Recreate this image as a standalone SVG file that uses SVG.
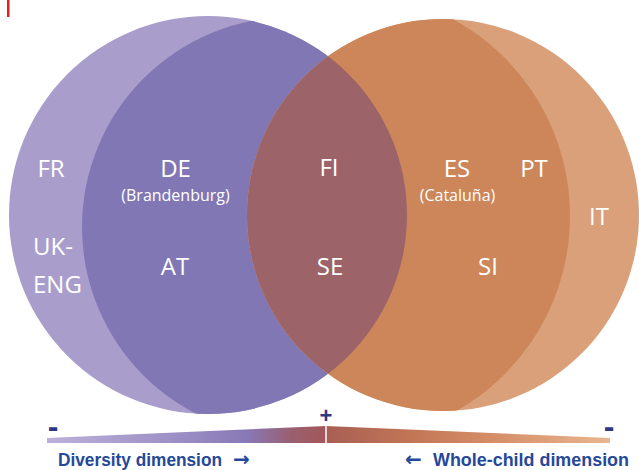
<svg xmlns="http://www.w3.org/2000/svg" width="639" height="470" viewBox="0 0 639 470">
<defs>
  <clipPath id="clipL"><circle cx="208" cy="215" r="199"/></clipPath>
  <clipPath id="clipR"><circle cx="443" cy="215" r="196"/></clipPath>
  <linearGradient id="barL" gradientUnits="userSpaceOnUse" x1="47" y1="0" x2="326" y2="0">
    <stop offset="0" stop-color="#bab1da"/>
    <stop offset="0.45" stop-color="#9d90c6"/>
    <stop offset="0.72" stop-color="#8878b6"/>
    <stop offset="0.88" stop-color="#9a5f6e"/>
    <stop offset="1" stop-color="#a3575a"/>
  </linearGradient>
  <linearGradient id="barR" gradientUnits="userSpaceOnUse" x1="326" y1="0" x2="610" y2="0">
    <stop offset="0" stop-color="#a85e54"/>
    <stop offset="0.3" stop-color="#c27656"/>
    <stop offset="0.6" stop-color="#d68f68"/>
    <stop offset="1" stop-color="#e8b690"/>
  </linearGradient>
</defs>
<style>
  .lbl{font-family:"Open Sans","Noto Sans","DejaVu Sans",sans-serif;fill:#ffffff;font-size:24px;text-anchor:middle}
  .sub{font-size:16px}
  .dim{font-family:"Liberation Sans",Arial,sans-serif;font-weight:bold;font-size:18px;fill:#26489a}
  .arr{font-family:"DejaVu Sans",sans-serif;font-weight:bold;font-size:20px;fill:#26489a}
  .sign{font-family:"Liberation Sans",Arial,sans-serif;font-weight:bold;fill:#2d3784;text-anchor:middle}
</style>
<rect width="639" height="470" fill="#ffffff"/>
<rect x="7" y="0" width="2.5" height="17" fill="#e2231a"/>

<g id="diversity-circle">
  <circle cx="208" cy="215" r="199" fill="#a99dcc"/>
  <circle cx="292" cy="227" r="210" fill="#8077b4" clip-path="url(#clipL)"/>
</g>
<g id="wholechild-circle">
  <circle cx="443" cy="215" r="196" fill="#daa07a"/>
  <circle cx="346" cy="216" r="224" fill="#cc8659" clip-path="url(#clipR)"/>
</g>
<g id="overlap">
  <circle cx="443" cy="215" r="196" fill="#9c6469" clip-path="url(#clipL)"/>
</g>

<g id="node-FR"><text class="lbl" x="51" y="177">FR</text></g>
<g id="node-UKENG"><text class="lbl" x="33" y="255" style="text-anchor:start">UK-</text><text class="lbl" x="33" y="293" style="text-anchor:start">ENG</text></g>
<g id="node-DE"><text class="lbl" x="175.5" y="177">DE</text><text class="lbl sub" x="175.5" y="201">(Brandenburg)</text></g>
<g id="node-AT"><text class="lbl" x="175" y="275">AT</text></g>
<g id="node-FI"><text class="lbl" x="329" y="176">FI</text></g>
<g id="node-SE"><text class="lbl" x="330" y="275">SE</text></g>
<g id="node-ES"><text class="lbl" x="457" y="177">ES</text><text class="lbl sub" x="457.5" y="201">(Cataluña)</text></g>
<g id="node-PT"><text class="lbl" x="534" y="177">PT</text></g>
<g id="node-IT"><text class="lbl" x="599" y="225">IT</text></g>
<g id="node-SI"><text class="lbl" x="488" y="275">SI</text></g>

<g id="connectors"></g>

<g id="scale">
  <path d="M47,438 L326,426 L326,443 L47,443 Z" fill="url(#barL)"/>
  <path d="M326,426 L610,438 L610,443 L326,443 Z" fill="url(#barR)"/>
  <line x1="326" y1="426" x2="326" y2="443" stroke="#ffffff" stroke-width="1.5"/>
  <text class="sign" x="326" y="422.5" font-size="22">+</text>
  <text class="sign" x="53" y="437" font-size="32">-</text>
  <text class="sign" x="609" y="437" font-size="32">-</text>
  <text class="dim" x="58" y="466" textLength="164" lengthAdjust="spacingAndGlyphs">Diversity dimension</text>
  <text class="arr" x="233" y="466">→</text>
  <text class="arr" x="405" y="466">←</text>
  <text class="dim" x="433" y="466" textLength="196" lengthAdjust="spacingAndGlyphs">Whole-child dimension</text>
</g>
</svg>
